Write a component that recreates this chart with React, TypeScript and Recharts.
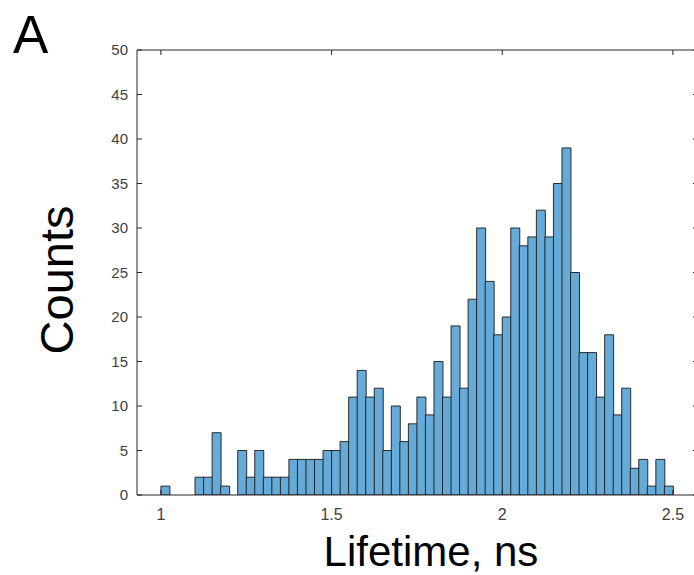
import { ComposedChart, Bar, Line, XAxis, YAxis } from "recharts";

// histogram of lifetimes, bins of 0.025 ns starting at 1.0
const binStart = 1.0;
const binWidth = 0.025;
const counts = [
  1, 0, 0, 0, 2, 2, 7, 1, 0, 5,
  2, 5, 2, 2, 2, 4, 4, 4, 4, 5,
  5, 6, 11, 14, 11, 12, 5, 10, 6, 8,
  11, 9, 15, 11, 19, 12, 22, 30, 24, 18,
  20, 30, 28, 29, 32, 29, 35, 39, 25, 16,
  16, 11, 18, 9, 12, 3, 4, 1, 4, 1,
];
const xTicks = [1, 1.5, 2, 2.5];
const yTicks = [0, 5, 10, 15, 20, 25, 30, 35, 40, 45, 50];
const xDomain = [0.93, 2.5735];

const data = counts.map((c, i) => ({
  x: binStart + binWidth * (i + 0.5),
  count: c,
}));

const FONT = "'Liberation Sans', Arial, sans-serif";
const AXIS = "#262626";
const TICK_TEXT = "#404040";

const LeftTick = (props: any) => {
  const { x, y, payload } = props;
  return (
    <g>
      <line x1={x} x2={x + 5} y1={y} y2={y} stroke={AXIS} />
      <text x={x - 9} y={y} dy={5} textAnchor="end" fontSize={15} fill={TICK_TEXT} fontFamily={FONT}>
        {payload.value}
      </text>
    </g>
  );
};

const BottomTick = (props: any) => {
  const { x, y, payload } = props;
  return (
    <g>
      <line x1={x} x2={x} y1={y} y2={y - 5} stroke={AXIS} />
      <text x={x} y={y + 25} textAnchor="middle" fontSize={16} fill={TICK_TEXT} fontFamily={FONT}>
        {payload.value}
      </text>
    </g>
  );
};

const TopTick = (props: any) => {
  const { x, y } = props;
  return <line x1={x} x2={x} y1={y} y2={y + 5} stroke={AXIS} />;
};

const RightTick = (props: any) => {
  const { x, y } = props;
  return <line x1={x} x2={x - 5} y1={y} y2={y} stroke={AXIS} />;
};

export default function App() {
  return (
    <div
      style={{
        position: "absolute",
        left: 0,
        top: 0,
        width: 694,
        height: 575,
        overflow: "hidden",
        background: "#fff",
      }}
    >
      {/* the box's right edge sits just past the picture's edge, as in the figure */}
      <ComposedChart
        width={699}
        height={575}
        data={data}
        margin={{ top: 49, right: 0, left: 0, bottom: 0 }}
        barCategoryGap={0}
        barGap={0}
      >
        <XAxis
          xAxisId="bottom"
          dataKey="x"
          type="number"
          domain={xDomain}
          allowDataOverflow
          ticks={xTicks}
          height={80}
          tickSize={0}
          tickMargin={0}
          tickLine={false}
          axisLine={{ stroke: AXIS }}
          tick={<BottomTick />}
          interval={0}
        />
        <XAxis
          xAxisId="top"
          orientation="top"
          dataKey="x"
          type="number"
          domain={xDomain}
          allowDataOverflow
          ticks={xTicks}
          height={1}
          tickSize={0}
          tickMargin={0}
          tickLine={false}
          axisLine={{ stroke: AXIS }}
          tick={<TopTick />}
          interval={0}
        />
        <YAxis
          yAxisId="left"
          type="number"
          domain={[0, 50]}
          allowDataOverflow
          ticks={yTicks}
          width={137}
          tickSize={0}
          tickMargin={0}
          tickLine={false}
          axisLine={{ stroke: AXIS }}
          tick={<LeftTick />}
          interval={0}
        />
        <YAxis
          yAxisId="right"
          orientation="right"
          type="number"
          domain={[0, 50]}
          allowDataOverflow
          ticks={yTicks}
          width={1}
          tickSize={0}
          tickMargin={0}
          tickLine={false}
          axisLine={{ stroke: AXIS }}
          tick={<RightTick />}
          interval={0}
        />
        <Bar
          xAxisId="bottom"
          yAxisId="left"
          dataKey="count"
          fill="#66AAD7"
          stroke="#1a1a1a"
          strokeWidth={0.9}
          isAnimationActive={false}
        />
        {/* invisible series so the top/right box axes get drawn */}
        <Line
          xAxisId="top"
          yAxisId="right"
          dataKey="count"
          stroke="none"
          dot={false}
          activeDot={false}
          legendType="none"
          isAnimationActive={false}
        />
      </ComposedChart>
      <svg
        width={694}
        height={575}
        style={{ position: "absolute", left: 0, top: 0, pointerEvents: "none" }}
      >
        <text x={13} y={53} fontSize={53} fontFamily={FONT} fill="#000">
          A
        </text>
        <text
          x={73}
          y={280}
          fontSize={47}
          fontFamily={FONT}
          fill="#000"
          textAnchor="middle"
          transform="rotate(-90, 73, 280)"
        >
          Counts
        </text>
        <text x={431} y={566} fontSize={42} fontFamily={FONT} fill="#000" textAnchor="middle">
          Lifetime, ns
        </text>
      </svg>
    </div>
  );
}
